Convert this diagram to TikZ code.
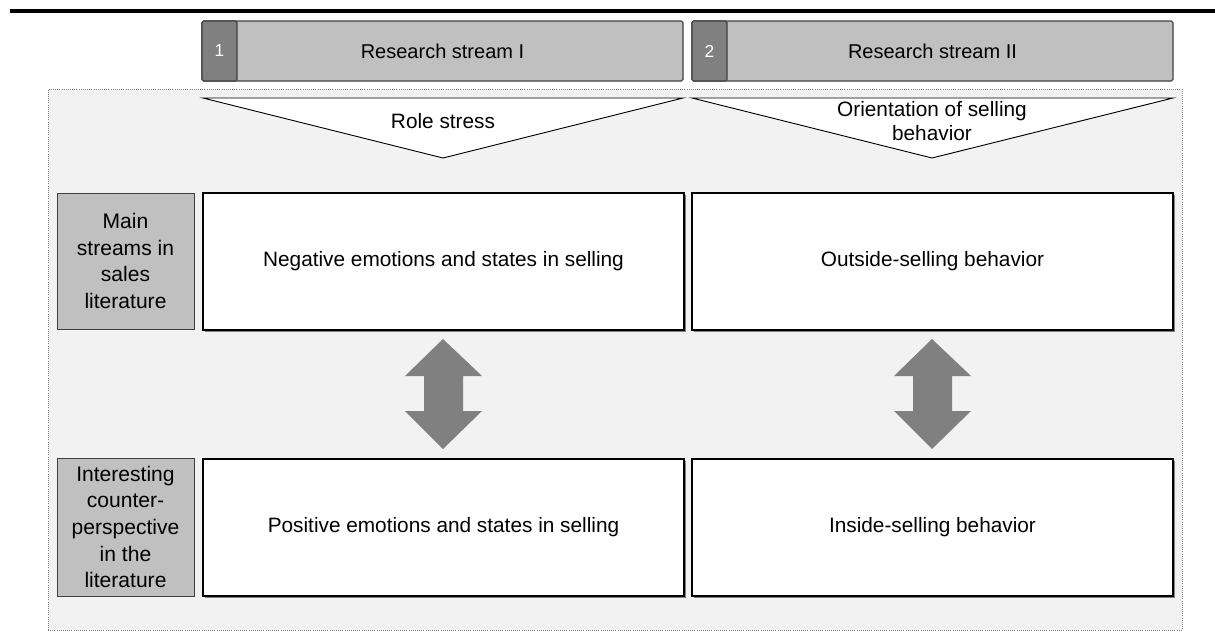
\documentclass[tikz,border=0pt]{standalone}
\usepackage{fontspec}
\setmainfont{Liberation Sans}
\usetikzlibrary{fit}
\definecolor{hdark}{HTML}{808080}
\definecolor{hlight}{HTML}{C0C0C0}
\definecolor{panel}{HTML}{F2F2F2}
\definecolor{bord}{HTML}{404040}
\tikzset{
  hdr/.style={draw=bord, line width=0.8pt, rounded corners=1.2pt, inner sep=0pt},
  hdrdark/.style={hdr, fill=hdark},
  hdrlight/.style={hdr, fill=hlight},
  lbl/.style={draw=bord, line width=0.6pt, fill=hlight, inner sep=0pt},
  cbox/.style={draw=black, line width=0.8pt, fill=white, inner sep=0pt},
  shad/.style={fill=hdark},
  tri/.style={draw=black, line width=0.7pt, fill=white},
  dbl/.style={fill=hdark},
  txt/.style={font=\fontsize{15}{17.5}\selectfont, align=center, text=black},
  ctxt/.style={font=\fontsize{15.6}{18}\selectfont, align=center, text=black},
  ltxt/.style={font=\fontsize{15.8}{20}\selectfont, align=center, text=black},
  numtxt/.style={font=\fontsize{13}{15}\selectfont, text=white},
}
\begin{document}
\begin{tikzpicture}[x=0.75pt,y=-0.75pt]
\useasboundingbox (0,0) rectangle (1215,632);
% top rule
\fill[black] (10,9) rectangle (1215,13);
% panel
\node[fit={(48,89)(1182,630)}, inner sep=0pt, fill=panel, draw=gray, densely dotted, line width=0.6pt] (panel) {};
% headers
\node[fit={(202,21)(683,81)}, hdrlight] (h1) {};
\node[fit={(202,21)(237,81)}, hdrdark] (h1n) {};
\node[numtxt] at (h1n.center) {1};
\node[txt] at (h1.center) {Research stream I};
\node[fit={(692,21)(1173,81)}, hdrlight] (h2) {};
\node[fit={(692,21)(727,81)}, hdrdark] (h2n) {};
\node[numtxt] at (h2n.center) {2};
\node[txt] at (h2.center) {Research stream II};
% triangles
\draw[tri] (203,98) -- (683,98) -- (443,158) -- cycle;
\node[ctxt] (t1) at (443,121) {Role stress};
\draw[tri] (692,98) -- (1173,98) -- (932,158) -- cycle;
\node[ctxt] (t2) at (932,121) {Orientation of selling\\behavior};
% row labels
\node[fit={(57,193)(194,329)}, lbl] (l1) {};
\node[ltxt] at (l1.center) {Main\\streams in\\sales\\literature};
\node[fit={(57,458)(194,596)}, lbl] (l2) {};
\node[ltxt] at (l2.center) {Interesting\\counter-\\perspective\\in the\\literature};
% content boxes with shadow
\fill[shad] (205,195) rectangle (686,332);
\fill[shad] (694,195) rectangle (1175,332);
\fill[shad] (205,461) rectangle (686,598);
\fill[shad] (694,461) rectangle (1175,598);
\node[fit={(203,193)(684,330)}, cbox] (b11) {};
\node[ctxt] at (b11.center) {Negative emotions and states in selling};
\node[fit={(692,193)(1173,330)}, cbox] (b12) {};
\node[ctxt] at (b12.center) {Outside-selling behavior};
\node[fit={(203,459)(684,596)}, cbox] (b21) {};
\node[ctxt] at (b21.center) {Positive emotions and states in selling};
\node[fit={(692,459)(1173,596)}, cbox] (b22) {};
\node[ctxt] at (b22.center) {Inside-selling behavior};
% double arrows
\fill[dbl] (443,339) -- (482,376) -- (463,376) -- (463,411) -- (482,411) -- (443,449) -- (405,411) -- (424,411) -- (424,376) -- (405,376) -- cycle;
\fill[dbl] (932,339) -- (971,376) -- (952,376) -- (952,411) -- (971,411) -- (932,449) -- (894,411) -- (913,411) -- (913,376) -- (894,376) -- cycle;
\end{tikzpicture}
\end{document}
